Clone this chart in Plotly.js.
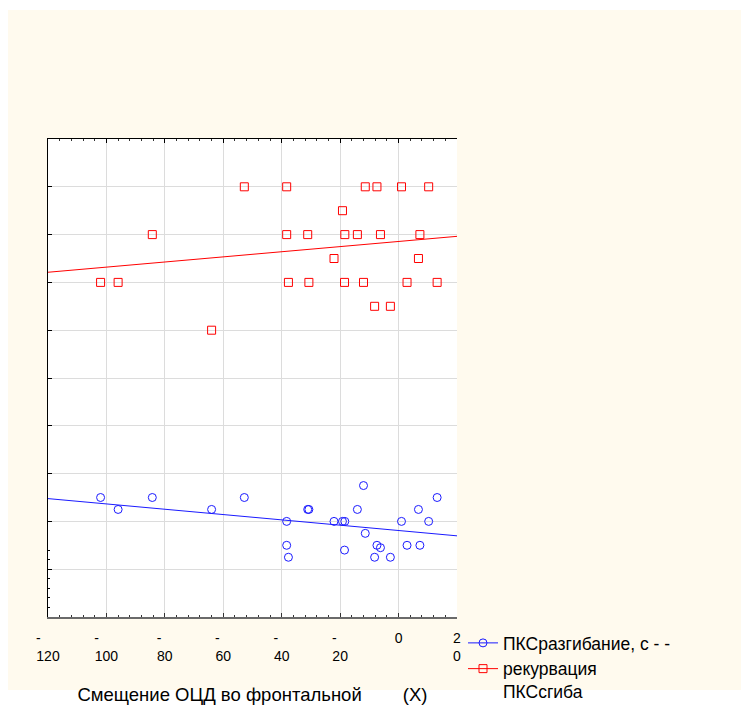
<!DOCTYPE html>
<html><head><meta charset="utf-8">
<script src="https://cdn.plot.ly/plotly-3.0.1.min.js"></script>
<style>html,body{margin:0;padding:0;background:#fff}</style>
</head><body>
<div id="chart" style="width:741px;height:705px"></div>
<script>
// --- data ---
const xShift = [-102, -96, -84.3, -64, -52.8, -38.3, -38.3, -37.7, -31.1, -30.7, -22.1, -19.2, -18.5, -18.4,
                -14.1, -12, -11.4, -8.2, -7.4, -6.2, -2.8, 1, 2.9, 6.8, 7.3, 10.3, 13.2];
const yExt  = [50, 45, 50, 45, 50, 40, 30, 25, 45, 45, 40, 40, 28, 40,
               45, 55, 35, 25, 30, 29, 25, 40, 30, 45, 30, 40, 50];
const yFlex = [140, 140, 160, 120, 180, 180, 160, 140, 160, 140, 150, 170, 140, 160,
               160, 140, 180, 130, 180, 160, 130, 180, 140, 150, 160, 180, 140];
const seriesNames = ["ПКСразгибание, с - -", "рекурвация<br>ПКСсгиба"];
const xTickVals = [-120, -100, -80, -60, -40, -20, 0, 20];
const xTickText = ["-&nbsp;&nbsp;&nbsp;&nbsp;&nbsp;<br>120", "-&nbsp;&nbsp;&nbsp;&nbsp;&nbsp;<br>100",
                   "-&nbsp;&nbsp;&nbsp;<br>80", "-&nbsp;&nbsp;&nbsp;<br>60", "-&nbsp;&nbsp;&nbsp;<br>40",
                   "-&nbsp;&nbsp;&nbsp;<br>20", "0", "2<br>0"];
const xTitle = "Смещение ОЦД во фронтальной&nbsp;&nbsp;&nbsp;&nbsp;&nbsp;&nbsp;&nbsp;&nbsp;(X)";
const xRange = [-120, 20];
const yRange = [0, 200];
const yMinorVals = [4, 8, 12, 16, 24, 28];

// --- helpers ---
function linFit(xs, ys) {
  const n = xs.length;
  const mx = xs.reduce((a, b) => a + b, 0) / n;
  const my = ys.reduce((a, b) => a + b, 0) / n;
  let sxy = 0, sxx = 0;
  for (let i = 0; i < n; i++) { sxy += (xs[i] - mx) * (ys[i] - my); sxx += (xs[i] - mx) ** 2; }
  const b = sxy / sxx;
  return x => my + b * (x - mx);
}
function withGaps(arr) { const out = []; arr.forEach(v => { out.push(v, null); }); return out; }

const BLUE = '#1a1aff', RED = '#ff0000';
const fExt = linFit(xShift, yExt), fFlex = linFit(xShift, yFlex);

const W = 741, H = 705, ML = 48, MR = 284, MT = 139, MB = 88;
const PW = W - ML - MR, PH = H - MT - MB;
const px = x => (x - ML) / PW;
const py = y => (H - MB - y) / PH;

const traces = [
  { x: withGaps(xShift), y: withGaps(yExt), name: seriesNames[0], type: 'scatter', mode: 'lines+markers',
    connectgaps: false, line: { color: BLUE, width: 1 },
    marker: { symbol: 'circle-open', size: 8, color: BLUE, line: { width: 1 } }, hoverinfo: 'x+y' },
  { x: withGaps(xShift), y: withGaps(yFlex), name: seriesNames[1], type: 'scatter', mode: 'lines+markers',
    connectgaps: false, line: { color: RED, width: 1 },
    marker: { symbol: 'square-open', size: 8, color: RED, line: { width: 1 } }, hoverinfo: 'x+y' },
  { x: xRange, y: xRange.map(fExt), type: 'scatter', mode: 'lines', line: { color: BLUE, width: 1 },
    showlegend: false, hoverinfo: 'skip' },
  { x: xRange, y: xRange.map(fFlex), type: 'scatter', mode: 'lines', line: { color: RED, width: 1 },
    showlegend: false, hoverinfo: 'skip' },
  { x: [], y: [], xaxis: 'x2', yaxis: 'y', type: 'scatter', mode: 'markers', showlegend: false, hoverinfo: 'skip' }
];

const layout = {
  width: W, height: H,
  margin: { l: ML, r: MR, t: MT, b: MB, pad: 0, autoexpand: false },
  paper_bgcolor: '#fffaee',
  plot_bgcolor: '#ffffff',
  font: { family: 'Liberation Sans, Arial, sans-serif', color: '#000' },
  showlegend: true,
  legend: {
    x: px(463), y: py(625), xanchor: 'left', yanchor: 'top', valign: 'top',
    bgcolor: 'rgba(0,0,0,0)', borderwidth: 0, tracegroupgap: 0,
    font: { size: 17.5, family: 'Liberation Sans, Arial, sans-serif', color: '#000' }
  },
  xaxis: {
    range: xRange, tickmode: 'array', tickvals: xTickVals, ticktext: xTickText,
    ticks: 'inside', ticklen: 4, tickcolor: '#333', tickwidth: 1,
    showline: true, linecolor: '#6a6a6a', linewidth: 2,
    showgrid: true, gridcolor: '#dcdcdc', gridwidth: 1, zeroline: false,
    minor: { dtick: 4, tick0: 0, ticks: 'inside', ticklen: 2, tickcolor: '#333', showgrid: false },
    tickfont: { size: 14, color: '#000' }, ticklabelstandoff: 7,
    title: { text: xTitle, font: { size: 18.5, color: '#000' }, standoff: 30 },
    automargin: false, fixedrange: true
  },
  xaxis2: {
    matches: 'x', overlaying: 'x', side: 'top', anchor: 'y',
    tickmode: 'array', tickvals: xTickVals, showticklabels: false,
    ticks: 'inside', ticklen: 4, tickcolor: '#000', tickwidth: 1,
    showline: true, linecolor: '#000', linewidth: 1, showgrid: false, zeroline: false,
    minor: { dtick: 4, tick0: 0, ticks: 'inside', ticklen: 2, tickcolor: '#333', showgrid: false },
    automargin: false, fixedrange: true
  },
  yaxis: {
    range: yRange, dtick: 20, tick0: 0, showticklabels: false,
    ticks: 'inside', ticklen: 4, tickcolor: '#000', tickwidth: 1,
    showline: true, linecolor: '#000', linewidth: 1,
    showgrid: true, gridcolor: '#dcdcdc', gridwidth: 1, zeroline: false,
    minor: { tickmode: 'array', tickvals: yMinorVals, ticks: 'inside', ticklen: 2, tickcolor: '#000', showgrid: false },
    automargin: false, fixedrange: true
  },
  shapes: [
    { type: 'rect', xref: 'paper', yref: 'paper', layer: 'below', x0: px(0), x1: px(8), y0: py(H), y1: py(0),
      fillcolor: '#ffffff', line: { width: 0 } },
    { type: 'rect', xref: 'paper', yref: 'paper', layer: 'below', x0: px(0), x1: px(W), y0: py(10), y1: py(0),
      fillcolor: '#ffffff', line: { width: 0 } },
    { type: 'rect', xref: 'paper', yref: 'paper', layer: 'below', x0: px(0), x1: px(W), y0: py(H), y1: py(690),
      fillcolor: '#ffffff', line: { width: 0 } }
  ],
  hovermode: false
};

Plotly.newPlot('chart', traces, layout, { displayModeBar: false, staticPlot: true });
</script>
</body></html>
